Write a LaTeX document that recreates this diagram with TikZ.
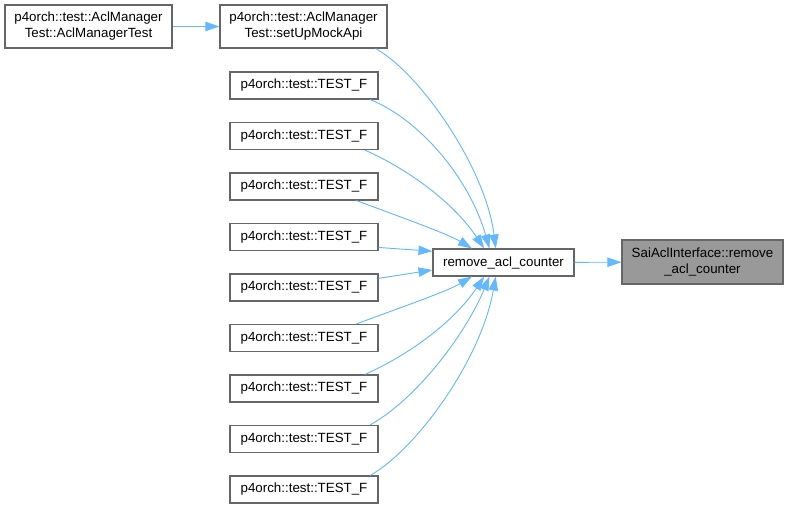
\documentclass[tikz,border=0pt]{standalone}
\usepackage{fontspec}
\setmainfont{Liberation Sans}
\usetikzlibrary{arrows.meta}
\definecolor{edgecol}{HTML}{63B8FF}
\definecolor{linecol}{HTML}{666666}
\definecolor{hicol}{HTML}{999999}

\begin{document}
\begin{tikzpicture}[
  x=0.75pt, y=-0.75pt,
  font=\fontsize{10pt}{12pt}\selectfont,
  fnbox/.style={draw=linecol,fill=white,line width=0.8pt,inner sep=0pt,
                minimum height=20.25pt,align=center},
  twobox/.style={fnbox,minimum width=125.25pt,minimum height=32.25pt},
  testbox/.style={fnbox,minimum width=111pt},
  arr/.style={-{Triangle[length=10.5pt,width=7pt,fill=edgecol]},draw=edgecol,line width=0.7pt},
]
\useasboundingbox (0,0) rectangle (789,509);

\node[twobox] (mgr) at (88.5,26.5)
  {p4orch::test::AclManager\\Test::AclManagerTest};
\node[twobox] (mock) at (303.5,26.5)
  {p4orch::test::AclManager\\Test::setUpMockApi};

\foreach \i/\yy in {1/85.5,2/136,3/186.5,4/237,5/287.5,6/338,7/388.5,8/439,9/489.5}
  \node[testbox] (t\i) at (304,\yy) {p4orch::test::TEST\_F};

\node[fnbox,minimum width=105.75pt] (rm) at (503.5,262.5) {remove\_acl\_counter};
\node[fnbox,fill=hicol,minimum width=120.75pt,minimum height=33pt] (sai) at (702.5,262)
  {SaiAclInterface::remove\\\_acl\_counter};

\draw[arr] (mgr) -- (mock);
\draw[arr] (mock.-17) .. controls +(45,25) and +(-10,-80) .. (rm.119);
\draw[arr] (t1.-12) .. controls +(50,20) and +(-20,-70) .. (rm.135);
\draw[arr] (t2.-13) .. controls +(45,20) and +(-30,-45) .. (rm.144);
\draw[arr] (t3.-15) .. controls +(40,15) and +(-25,-15) .. (rm.156);
\draw[arr] (t4.-8) -- (rm.171);
\draw[arr] (t5.7) -- (rm.186);
\draw[arr] (t6.15) .. controls +(40,-15) and +(-25,15) .. (rm.204);
\draw[arr] (t7.13) .. controls +(45,-20) and +(-30,45) .. (rm.216);
\draw[arr] (t8.12) .. controls +(45,-25) and +(-25,60) .. (rm.225);
\draw[arr] (t9.12) .. controls +(45,-25) and +(-15,85) .. (rm.241);
\draw[arr] (rm) -- (sai);
\end{tikzpicture}
\end{document}
